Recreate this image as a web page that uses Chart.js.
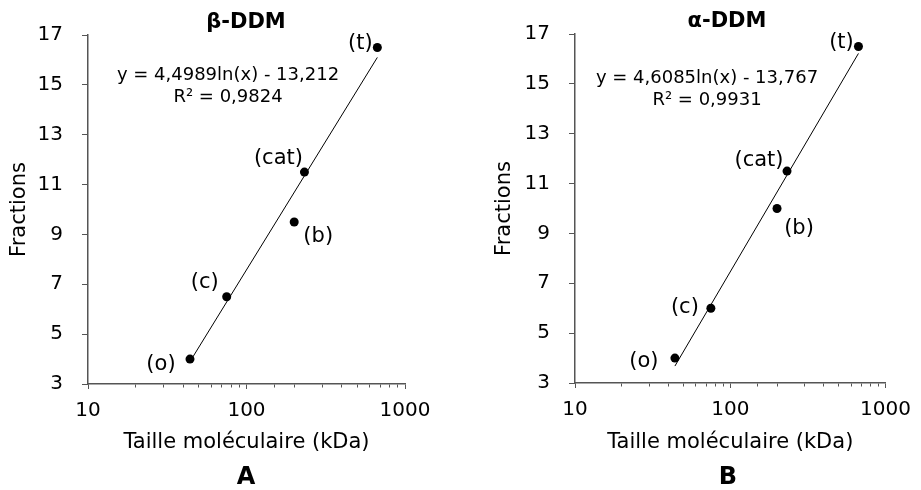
<!DOCTYPE html>
<html>
<head>
<meta charset="utf-8">
<script src="https://cdn.jsdelivr.net/npm/chart.js@4.4.1/dist/chart.umd.min.js"></script>
<style>
  html, body { margin: 0; padding: 0; background: #fff; }
  .panel { position: absolute; top: 0; height: 490px; }
</style>
</head>
<body>
<div class="panel" style="left:0;width:460px"><canvas id="chartA" width="460" height="490"></canvas></div>
<div class="panel" style="left:460px;width:461px"><canvas id="chartB" width="461" height="490"></canvas></div>
<script>
// marker proteins (kDa) and elution fractions
const proteins = ['(o)', '(c)', '(b)', '(cat)', '(t)'];
const masses = [44, 75, 200, 232, 669];
const fractionsBeta = [4, 6.5, 9.5, 11.5, 16.5];
const fractionsAlpha = [4, 6, 10, 11.5, 16.5];

// trend line ends
const trendX = [44, 669];
const trendBeta = [3.9, 16.1];
const trendAlpha = [3.68, 16.22];

const yTicks = [3, 5, 7, 9, 11, 13, 15, 17];

const FONT = 'DejaVu Sans, Verdana, sans-serif';
const AXIS = '#555555';

function pts(xs, ys) {
    return xs.map((x, i) => ({ x: x, y: ys[i] }));
}

// text annotations (title, equation, point labels, panel letter)
const annotations = {
    id: 'annotations',
    afterDraw(chart, args, opts) {
        const ctx = chart.ctx;
        ctx.save();
        ctx.fillStyle = '#000';
        ctx.textAlign = 'center';
        ctx.textBaseline = 'middle';

        const meta = chart.getDatasetMeta(1);
        ctx.font = '21px ' + FONT;
        meta.data.forEach((el, i) => {
            const off = opts.offsets[i];
            ctx.fillText(proteins[i], el.x + off[0], el.y + off[1]);
        });

        ctx.font = '18px ' + FONT;
        ctx.fillText(opts.equation[0], opts.eqPos[0], opts.eqPos[1]);
        ctx.fillText(opts.equation[1], opts.eqPos[0], opts.eqPos[1] + 22);

        ctx.font = 'bold 21px ' + FONT;
        ctx.fillText(opts.title, opts.titlePos[0], opts.titlePos[1]);

        ctx.font = 'bold 24px ' + FONT;
        ctx.fillText(opts.letter, opts.letterPos[0], opts.letterPos[1]);
        ctx.restore();
    }
};

function makeChart(id, fr, trend, cfg) {
    return new Chart(document.getElementById(id), {
        type: 'scatter',
        data: {
            datasets: [{
                data: pts(trendX, trend),
                showLine: true,
                borderColor: '#000',
                borderWidth: 1,
                pointRadius: 0
            }, {
                data: pts(masses, fr),
                backgroundColor: '#000',
                borderWidth: 0,
                pointRadius: 4.5
            }]
        },
        options: {
            responsive: false,
            animation: false,
            layout: { padding: { top: cfg.top, right: cfg.right, bottom: 0, left: 0 } },
            plugins: {
                legend: { display: false },
                tooltip: { enabled: false },
                annotations: cfg.ann
            },
            scales: {
                x: {
                    type: 'logarithmic',
                    min: 10,
                    max: 1000,
                    afterFit: s => { s.height = cfg.xHeight; },
                    border: { color: AXIS, width: 1.5 },
                    grid: {
                        drawOnChartArea: false,
                        tickLength: 5,
                        tickColor: AXIS,
                        tickBorderDash: c => {
                            const v = c.tick ? c.tick.value : 10;
                            return Number.isInteger(Math.log10(v)) ? [] : [3, 10];
                        }
                    },
                    ticks: {
                        autoSkip: false,
                        maxRotation: 0,
                        padding: 10,
                        color: '#000',
                        font: { family: FONT, size: 20 },
                        callback: v => Number.isInteger(Math.log10(v)) ? String(v) : ''
                    },
                    title: {
                        display: true,
                        text: 'Taille moléculaire (kDa)',
                        color: '#000',
                        font: { family: FONT, size: 21 },
                        padding: { top: 0, bottom: 35 }
                    }
                },
                y: {
                    min: 3,
                    max: 17,
                    afterFit: s => { s.width = cfg.yWidth; },
                    afterBuildTicks: s => { s.ticks = yTicks.map(v => ({ value: v })); },
                    border: { color: AXIS, width: 1.5 },
                    grid: { drawOnChartArea: false, tickLength: 6, tickColor: AXIS },
                    ticks: {
                        padding: 19,
                        color: '#000',
                        font: { family: FONT, size: 20 }
                    },
                    title: {
                        display: true,
                        text: 'Fractions',
                        color: '#000',
                        font: { family: FONT, size: 21 },
                        padding: { top: cfg.yTitlePad, bottom: 0 }
                    }
                }
            }
        },
        plugins: [annotations]
    });
}

makeChart('chartA', fractionsBeta, trendBeta, {
    top: 35, right: 55, xHeight: 106, yWidth: 88, yTitlePad: 7,
    ann: {
        title: 'β-DDM', titlePos: [246, 23],
        equation: ['y = 4,4989ln(x) - 13,212', 'R² = 0,9824'], eqPos: [228, 75],
        letter: 'A', letterPos: [246, 478],
        offsets: [[-29, 5], [-22, -14], [24, 15], [-26, -14], [-17, -4]]
    }
});

makeChart('chartB', fractionsAlpha, trendAlpha, {
    top: 34, right: 29, xHeight: 107, yWidth: 115, yTitlePad: 32,
    ann: {
        title: 'α-DDM', titlePos: [267, 22],
        equation: ['y = 4,6085ln(x) - 13,767', 'R² = 0,9931'], eqPos: [247, 78],
        letter: 'B', letterPos: [268, 478],
        offsets: [[-31, 3], [-26, -1], [22, 20], [-28, -11], [-17, -4]]
    }
});
</script>
</body>
</html>
